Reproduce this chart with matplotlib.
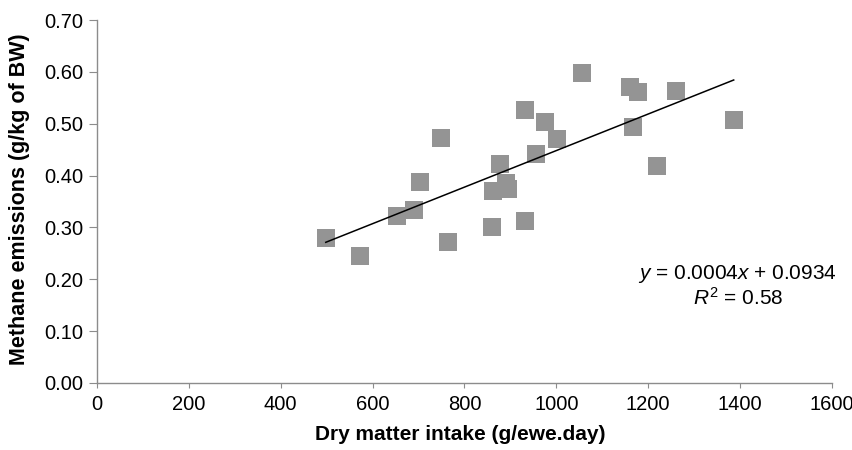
import numpy as np
import matplotlib
matplotlib.use("Agg")
import matplotlib.pyplot as plt

plt.rcParams['font.family'] = ['Liberation Sans', 'DejaVu Sans']
plt.rcParams['mathtext.fontset'] = 'custom'
plt.rcParams['mathtext.rm'] = 'Liberation Sans'
plt.rcParams['mathtext.it'] = 'Liberation Sans:italic'

dmi = [498, 572, 652, 689, 704, 748, 763, 859, 861, 878, 891, 895, 932, 932,
       956, 975, 1001, 1056, 1161, 1178, 1167, 1260, 1219, 1386]
methane = [0.280, 0.245, 0.323, 0.333, 0.387, 0.473, 0.272, 0.300, 0.371, 0.423,
           0.386, 0.375, 0.313, 0.526, 0.441, 0.503, 0.471, 0.597, 0.570, 0.562,
           0.493, 0.564, 0.419, 0.508]
xticks = [0, 200, 400, 600, 800, 1000, 1200, 1400, 1600]
yticks = [0.0, 0.1, 0.2, 0.3, 0.4, 0.5, 0.6, 0.7]

W, H = 853, 450
fig = plt.figure(figsize=(W / 100, H / 100), dpi=100)
ax = fig.add_axes([97 / W, 1 - 383 / H, (832 - 97) / W, (383 - 20) / H])

ax.plot(dmi, methane, linestyle='none', marker='s', markersize=13,
        color='#949494', markeredgewidth=0, zorder=2)

slope, intercept = np.polyfit(dmi, methane, 1)
xl = np.array([min(dmi), max(dmi)])
ax.plot(xl, slope * xl + intercept, color='black', linewidth=1.1, zorder=3)

ax.set_xlim(0, 1600)
ax.set_ylim(0, 0.7)
ax.set_xticks(xticks)
ax.set_yticks(yticks)
ax.set_yticklabels([f"{v:.2f}" for v in yticks])
for s in ['top', 'right']:
    ax.spines[s].set_visible(False)
for s in ['left', 'bottom']:
    ax.spines[s].set_color('#8c8c8c')
    ax.spines[s].set_linewidth(1.0)
ax.tick_params(axis='x', direction='out', length=3.8, color='#8c8c8c',
               labelsize=14.5, labelcolor='black', pad=4.5)
ax.tick_params(axis='y', direction='out', length=6, color='#8c8c8c',
               labelsize=14.5, labelcolor='black', pad=4)

fig.text(460 / W, 1 - 435 / H, 'Dry matter intake (g/ewe.day)', fontsize=15,
         fontweight='bold', ha='center', va='center')
fig.text(20 / W, 1 - 199 / H, 'Methane emissions (g/kg of BW)', fontsize=15.5,
         fontweight='bold', ha='center', va='center', rotation=90)

ax.text(1395, 0.210, r'$\it{y}$ = 0.0004$\it{x}$ + 0.0934', ha='center', va='center',
        fontsize=15, clip_on=False)
ax.text(1395, 0.164, r'$\it{R}^{2}$ = 0.58', ha='center', va='center', fontsize=15,
        clip_on=False)

fig.savefig('out.png', dpi=100)
